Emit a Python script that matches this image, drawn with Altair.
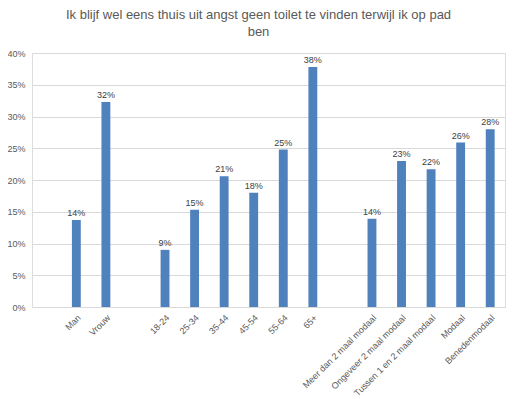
import altair as alt
import pandas as pd

title_lines = ["Ik blijf wel eens thuis uit angst geen toilet te vinden terwijl ik op pad", "ben"]

# category order including blank separator slots
order = [" ", "Man", "Vrouw", "  ", "18-24", "25-34", "35-44", "45-54", "55-64", "65+", "   ",
         "Meer dan 2 maal modaal", "Ongeveer 2 maal modaal", "Tussen 1 en 2 maal modaal", "Modaal", "Benedenmodaal"]

categories = ["Man", "Vrouw", "18-24", "25-34", "35-44", "45-54", "55-64", "65+",
              "Meer dan 2 maal modaal", "Ongeveer 2 maal modaal", "Tussen 1 en 2 maal modaal", "Modaal", "Benedenmodaal"]
values = [0.137, 0.323, 0.090, 0.153, 0.206, 0.180, 0.248, 0.378,
          0.139, 0.230, 0.217, 0.259, 0.280]
y_ticks = [0, 0.05, 0.1, 0.15, 0.2, 0.25, 0.3, 0.35, 0.4]

df = pd.DataFrame({"cat": categories, "val": values})

FONT = "Liberation Sans"

x_enc = alt.X("cat:N", sort=order,
              scale=alt.Scale(domain=order, paddingInner=0.7, paddingOuter=0.35),
              axis=alt.Axis(title=None, labelAngle=-45, labelAlign="right", labelBaseline="top",
                            labelFontSize=9, labelColor="#595959", labelFont=FONT,
                            ticks=False, domainColor="#D9D9D9", labelPadding=6, labelLimit=200,
                            labelOverlap=False))
y_enc = alt.Y("val:Q", scale=alt.Scale(domain=[0, 0.4], nice=False),
              axis=alt.Axis(title=None, format=".0%", values=y_ticks, tickCount=9,
                            gridColor="#D9D9D9", domain=False, ticks=False, labelOverlap=False,
                            labelFontSize=9, labelColor="#595959", labelFont=FONT, labelPadding=7))

base = alt.Chart(df).encode(x=x_enc, y=y_enc)
bars = base.mark_bar(color="#4F81BD")
labels = base.mark_text(dy=-7, fontSize=9, color="#404040", font=FONT).encode(
    text=alt.Text("val:Q", format=".0%"))

chart = alt.layer(bars, labels).properties(
    width=473, height=254,
    title=alt.TitleParams(title_lines, fontSize=13, font=FONT, fontWeight="normal", color="#595959",
                          anchor="middle", offset=10, dx=-10, lineHeight=17),
    autosize=alt.AutoSizeParams(type="none"),
    padding={"left": 24, "top": 45, "right": 4, "bottom": 90},
).configure_view(stroke=None).configure(background="white")

chart.save("out.html", embed_options={"renderer": "svg", "actions": False})
